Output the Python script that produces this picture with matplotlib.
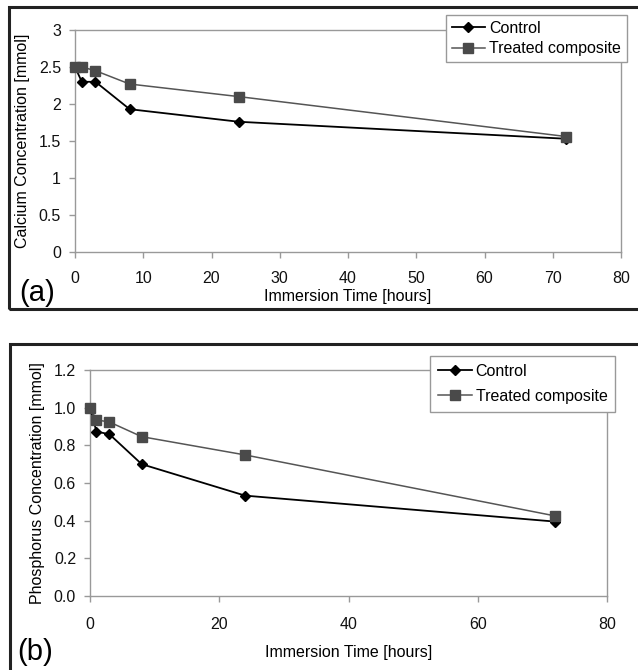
import matplotlib
matplotlib.use("Agg")
import matplotlib.pyplot as plt
from matplotlib.patches import Rectangle

plt.rcParams['font.family'] = ['Liberation Sans', 'DejaVu Sans']

time_h = [0, 1, 3, 8, 24, 72]
ca_control = [2.50, 2.30, 2.30, 1.93, 1.76, 1.53]
ca_treated = [2.50, 2.50, 2.45, 2.27, 2.10, 1.56]
p_control = [1.00, 0.873, 0.859, 0.70, 0.533, 0.395]
p_treated = [1.00, 0.935, 0.924, 0.846, 0.749, 0.425]

ca_yticks = [0, 0.5, 1, 1.5, 2, 2.5, 3]
ca_yticklabels = ['0', '0.5', '1', '1.5', '2', '2.5', '3']
ca_xticks = [0, 10, 20, 30, 40, 50, 60, 70, 80]
p_yticks = [0.0, 0.2, 0.4, 0.6, 0.8, 1.0, 1.2]
p_yticklabels = ['0.0', '0.2', '0.4', '0.6', '0.8', '1.0', '1.2']
p_xticks = [0, 20, 40, 60, 80]

W, H = 638, 670
fig = plt.figure(figsize=(W / 100, H / 100), dpi=100)

def fx(x):
    return x / W

def fy(y):
    return 1 - y / H

# outer panel frames
fig.patches.append(Rectangle((fx(9), fy(309)), fx(640 - 9), (309 - 7) / H,
                             transform=fig.transFigure, fill=False,
                             edgecolor='#222222', linewidth=2.2))
fig.patches.append(Rectangle((fx(10), fy(672)), fx(640 - 10), (672 - 344) / H,
                             transform=fig.transFigure, fill=False,
                             edgecolor='#222222', linewidth=2.2))

TICK_FS = 11.5
LABEL_FS = 11.5
LEG_FS = 11.5

def style(ax):
    for s in ax.spines.values():
        s.set_color('#999999')
        s.set_linewidth(1.0)
    ax.tick_params(axis='both', colors='#999999', length=4, width=1,
                   labelcolor='#111111', labelsize=TICK_FS)

def draw(ax, control, treated):
    ax.plot(time_h, control, color='black', linewidth=1.3, marker='D',
            markersize=5.5, markerfacecolor='black', markeredgecolor='black',
            label='Control', zorder=3, clip_on=False)
    ax.plot(time_h, treated, color='#555555', linewidth=1.1, marker='s',
            markersize=6.5, markerfacecolor='#4a4a4a', markeredgecolor='#4a4a4a',
            label='Treated composite', zorder=4, clip_on=False)

# panel (a)
ax1 = fig.add_axes([fx(75), fy(252), fx(621 - 75), (252 - 30) / H])
draw(ax1, ca_control, ca_treated)
ax1.set_xlim(0, 80)
ax1.set_ylim(0, 3)
ax1.set_xticks(ca_xticks)
ax1.set_yticks(ca_yticks)
ax1.set_yticklabels(ca_yticklabels)
style(ax1)
ax1.tick_params(axis='x', pad=10)
ax1.tick_params(axis='y', pad=6)
ax1.set_ylabel('Calcium Concentration [mmol]', fontsize=LABEL_FS)
ax1.set_xlabel('Immersion Time [hours]', fontsize=LABEL_FS)
ax1.yaxis.set_label_coords(fx(23 - 75) / fx(621 - 75), 0.5)
ax1.xaxis.set_label_coords(0.5, -(296 - 252) / (252 - 30))
ax1.xaxis.label.set_va('center')
ax1.yaxis.label.set_va('center')
leg1 = ax1.legend(loc='upper left', bbox_to_anchor=(fx(446), fy(15)),
                  bbox_transform=fig.transFigure, fontsize=LEG_FS, frameon=True,
                  fancybox=False, framealpha=1, edgecolor='#999999',
                  handlelength=2.1, handletextpad=0.25, borderpad=0.35,
                  labelspacing=0.35, borderaxespad=0)
leg1.get_frame().set_linewidth(1.0)
leg1.set_zorder(10)
fig.text(fx(19), fy(293), '(a)', fontsize=21, va='center', ha='left')

# panel (b)
ax2 = fig.add_axes([fx(90), fy(596), fx(607 - 90), (596 - 370) / H])
draw(ax2, p_control, p_treated)
ax2.set_xlim(0, 80)
ax2.set_ylim(0, 1.2)
ax2.set_xticks(p_xticks)
ax2.set_yticks(p_yticks)
ax2.set_yticklabels(p_yticklabels)
style(ax2)
ax2.tick_params(axis='x', pad=11)
ax2.tick_params(axis='y', pad=6)
ax2.set_ylabel('Phosphorus Concentration [mmol]', fontsize=LABEL_FS)
ax2.yaxis.set_label_coords(fx(38 - 90) / fx(607 - 90), 0.5)
ax2.set_xlabel('Immersion Time [hours]', fontsize=LABEL_FS)
ax2.xaxis.set_label_coords(0.5, -(652 - 596) / (596 - 370))
ax2.xaxis.label.set_va('center')
ax2.yaxis.label.set_va('center')
leg2 = ax2.legend(loc='upper left', bbox_to_anchor=(fx(430), fy(356)),
                  bbox_transform=fig.transFigure, fontsize=LEG_FS, frameon=True,
                  fancybox=False, framealpha=1, edgecolor='#999999',
                  handlelength=2.1, handletextpad=0.25, borderpad=0.5,
                  labelspacing=0.6, borderaxespad=0)
leg2.get_frame().set_linewidth(1.0)
leg2.set_zorder(10)
fig.text(fx(17), fy(652), '(b)', fontsize=21, va='center', ha='left')

fig.savefig('out.png', dpi=100)
